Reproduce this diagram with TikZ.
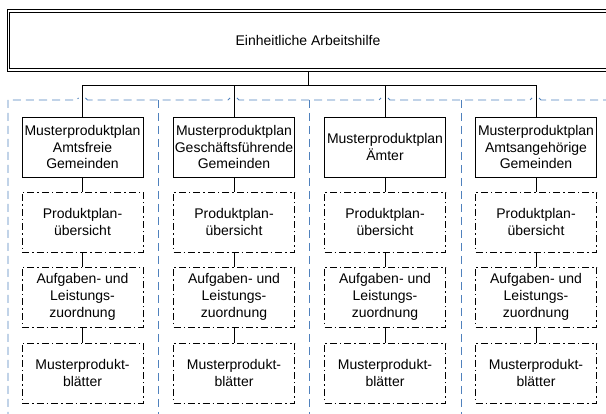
\documentclass[tikz,border=0pt]{standalone}
\usepackage{fontspec}
\setmainfont{Liberation Sans}
\usepackage{xcolor}
\usetikzlibrary{positioning}

\definecolor{groupblue}{RGB}{79,129,189}

\tikzset{
  boxfont/.style={font=\fontsize{14}{16.7}\selectfont},
  topbox/.style={minimum width=601pt, minimum height=61pt, boxfont},
  planbox/.style={draw=black, line width=0.8pt, minimum width=121pt, minimum height=60pt, inner sep=1pt, align=center, boxfont},
  subbox/.style={planbox, dash pattern=on 7pt off 3pt on 1.5pt off 3pt},
  link/.style={black, line width=0.8pt},
  group/.style={groupblue, line width=0.8pt, dash pattern=on 8pt off 5pt}
}

\begin{document}
\begin{tikzpicture}[x=1pt,y=-1pt]
\path[use as bounding box, clip] (0,0) rectangle (606,414);

\node[topbox] (top) at (308,40.5) {Einheitliche Arbeitshilfe};
\draw[link] (top.north west) rectangle (top.south east);
\draw[link] ([shift={(2.3,2.3)}]top.north west) rectangle ([shift={(-2.3,-2.3)}]top.south east);

% blue group frames
\draw[group] (8,420)--(8,100)--(76.5,100)--(78.5,98) (85.5,98)--(87.5,100)--(228,100)--(230,98) (237,98)--(239,100)--(379,100)--(381,98) (388,98)--(390,100)--(530,100)--(532,98) (539,98)--(541,100)--(610,100);
\draw[group] (158.5,100)--(158.5,420);
\draw[group] (309,100)--(309,420);
\draw[group] (461,100)--(461,420);

\begin{scope}[xshift=0pt] {
\node[planbox] (plan1) at (82.5,147) {Musterproduktplan\\Amtsfreie\\Gemeinden};
\node[subbox] (uebersicht1) at (82.5,222) {Produktplan-\\übersicht};
\node[subbox] (aufgaben1) at (82.5,297) {Aufgaben- und\\Leistungs-\\zuordnung};
\node[subbox] (blaetter1) at (82.5,373) {Musterprodukt-\\blätter};

\draw[link] (top.south)--++(0,14)-|(plan1.north);
\draw[link] (plan1)--(uebersicht1);
\draw[link] (uebersicht1)--(aufgaben1);
\draw[link] (aufgaben1)--(blaetter1);
}\end{scope}

\begin{scope}[xshift=151.5pt] {
\node[planbox] (plan2) at (82.5,147) {Musterproduktplan\\Geschäftsführende\\Gemeinden};
\node[subbox] (uebersicht2) at (82.5,222) {Produktplan-\\übersicht};
\node[subbox] (aufgaben2) at (82.5,297) {Aufgaben- und\\Leistungs-\\zuordnung};
\node[subbox] (blaetter2) at (82.5,373) {Musterprodukt-\\blätter};

\draw[link] (top.south)--++(0,14)-|(plan2.north);
\draw[link] (plan2)--(uebersicht2);
\draw[link] (uebersicht2)--(aufgaben2);
\draw[link] (aufgaben2)--(blaetter2);
}\end{scope}

\begin{scope}[xshift=302.5pt] {
\node[planbox] (plan3) at (82.5,147) {Musterproduktplan\\Ämter};
\node[subbox] (uebersicht3) at (82.5,222) {Produktplan-\\übersicht};
\node[subbox] (aufgaben3) at (82.5,297) {Aufgaben- und\\Leistungs-\\zuordnung};
\node[subbox] (blaetter3) at (82.5,373) {Musterprodukt-\\blätter};

\draw[link] (top.south)--++(0,14)-|(plan3.north);
\draw[link] (plan3)--(uebersicht3);
\draw[link] (uebersicht3)--(aufgaben3);
\draw[link] (aufgaben3)--(blaetter3);
}\end{scope}

\begin{scope}[xshift=453.5pt] {
\node[planbox] (plan4) at (82.5,147) {Musterproduktplan\\Amtsangehörige\\Gemeinden};
\node[subbox] (uebersicht4) at (82.5,222) {Produktplan-\\übersicht};
\node[subbox] (aufgaben4) at (82.5,297) {Aufgaben- und\\Leistungs-\\zuordnung};
\node[subbox] (blaetter4) at (82.5,373) {Musterprodukt-\\blätter};

\draw[link] (top.south)--++(0,14)-|(plan4.north);
\draw[link] (plan4)--(uebersicht4);
\draw[link] (uebersicht4)--(aufgaben4);
\draw[link] (aufgaben4)--(blaetter4);
}\end{scope}

\end{tikzpicture}
\end{document}
